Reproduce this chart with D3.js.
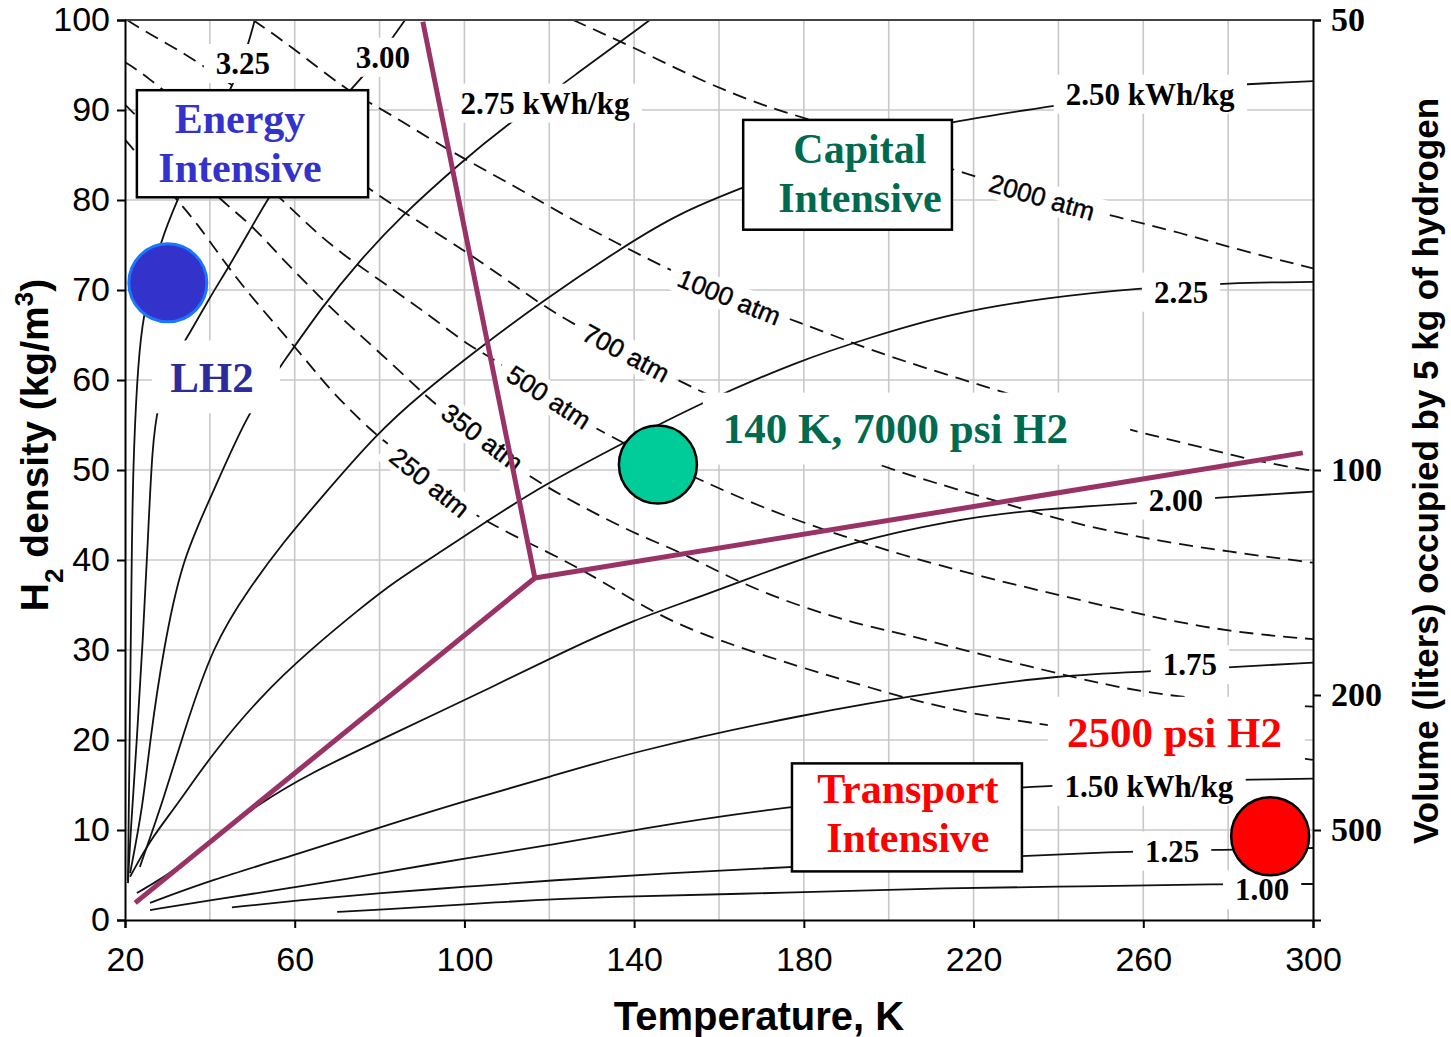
<!DOCTYPE html>
<html>
<head>
<meta charset="utf-8">
<script src="https://cdn.jsdelivr.net/npm/d3@7"></script>
<style>
body { margin: 0; background: #fff; }
</style>
</head>
<body>
<div id="chart"></div>
<script>
// energy contours, kWh/kg : [temperature K, density kg/m3]
var e100 = [[70.0,0.9],[78.5,1.1],[108.4,2.0],[132.0,2.6],[176.7,3.0],[214.4,3.6],[245.1,3.7],[277.4,4.0],[300,4.0]];
var e125 = [[45.2,1.4],[61.2,2.2],[80.1,3.0],[100.6,3.7],[120.2,4.4],[147.7,5.2],[176.7,5.9],[231.7,7.1],[245.1,7.4],[256.9,7.6],[278.8,7.8],[300,8.0]];
var e150 = [[25.9,1.1],[40.0,2.2],[61.2,3.7],[80.1,5.2],[100.6,6.9],[120.2,8.3],[139.7,10.0],[176.7,12.8],[237.3,15.2],[300,15.7]];
var e175 = [[25.9,1.9],[40.0,4.4],[61.2,7.4],[80.1,10.3],[100.6,13.3],[120.2,15.9],[139.7,18.7],[179.1,22.8],[214.4,25.6],[240.4,27.2],[261.1,27.6],[281.1,28.1],[300,28.6]];
var e200 = [[22.8,3.0],[32.3,5.6],[40.0,8.9],[51.8,13.0],[63.6,16.3],[80.1,20.0],[108.4,26.3],[124.2,30.0],[139.7,33.3],[155.5,35.9],[175.1,39.4],[190.9,41.9],[214.4,44.4],[234.0,45.6],[257.6,46.3],[280.4,47.0],[300,47.6]];
var e225 = [[21.2,4.8],[25.9,8.9],[32.3,12.8],[40.0,18.1],[51.8,24.8],[63.6,30.0],[75.4,34.6],[83.2,37.5],[95.0,41.1],[105.3,44.3],[118.5,48.3],[137.4,53.0],[155.5,57.4],[179.1,62.2],[194.9,64.6],[214.4,67.4],[238.0,69.2],[258.5,70.2],[280.4,70.8],[300,70.9]];
var e250 = [[23.5,5.9],[29.0,13.3],[33.7,20.6],[40.7,30.6],[49.5,37.0],[57.2,41.9],[65.3,46.4],[79.4,54.1],[90.2,58.6],[102.0,63.0],[117.8,68.6],[137.4,74.8],[150.8,78.6],[165.7,81.4],[180,84.0],[200,87.0],[214.4,88.7],[238.0,90.4],[270,92.6],[300,93.2]];
var e275 = [[21.2,5.2],[24.2,12.6],[25.9,20.0],[29.0,30.0],[33.4,40.0],[40.0,46.7],[48.8,56.3],[56.5,61.4],[66.7,68.3],[75.4,73.3],[84.8,78.1],[99.7,84.4],[109.1,88.0],[126.1,93.9],[143.7,100]];
var e300 = [[20.7,4.1],[21.2,8.9],[22.8,20.0],[24.2,31.1],[25.4,42.2],[26.4,52.6],[27.8,57.5],[31.0,62.0],[35.3,65.2],[40.0,69.2],[44.0,72.2],[49.5,76.7],[53.5,80.0],[61.2,85.6],[70.7,91.1],[77.3,94.2],[86.0,100]];
var e325 = [[20.7,4.4],[21.2,24.4],[21.6,41.1],[21.9,50.0],[22.8,60.0],[24.0,66.3],[26.0,70.5],[28.2,75.2],[32.3,80.0],[37.7,85.6],[43.6,91.1],[47.8,95.2],[50.6,100]];

// isobars, atm : [temperature K, density kg/m3]
var p250 = [[20,86.7],[28.2,82.2],[32.3,80.0],[37.0,77.4],[43.1,73.3],[49.5,69.4],[56.5,65.6],[63.6,61.7],[68.3,58.9],[78.5,54.1],[84.1,52.2],[91.9,48.3],[105.3,44.1],[120.2,40.8],[132.0,37.8],[146.1,33.7],[159.5,31.1],[179.1,28.1],[194.9,25.9],[214.4,23.3],[235.7,21.7],[300,17.8]];
var p350 = [[20,90.6],[30.6,85.6],[42.4,80.0],[49.5,77.4],[55.8,74.1],[63.6,70.3],[71.4,66.7],[78.5,63.7],[88.8,59.2],[91.9,57.8],[103.7,53.3],[116.2,48.9],[127.9,45.9],[139.7,43.0],[151.5,40.8],[163.3,37.8],[179.1,34.8],[194.9,32.6],[202.7,31.9],[219.9,29.7],[236.4,27.8],[251.4,26.1],[264.6,25.0],[282.8,24.1],[300,23.7]];
var p500 = [[20,95.3],[24.2,94.1],[37.7,88.9],[49.5,83.1],[57.2,80.0],[63.6,77.0],[71.4,73.9],[80.1,71.1],[86.5,68.9],[92.6,66.9],[101.3,63.7],[107.7,62.2],[119.7,57.8],[132.7,54.1],[145.6,51.1],[155.5,48.9],[171.3,45.6],[186.9,43.0],[202.7,40.6],[222.2,38.1],[242.0,35.9],[261.6,33.7],[280.4,32.0],[300,31.2]];
var p700 = [[20.5,100],[25.9,98.4],[33.7,96.4],[47.8,92.0],[61.2,87.4],[77.0,81.1],[101.3,74.1],[115.5,69.2],[124.9,66.4],[138.1,63.1],[152.0,59.4],[176.7,54.4],[198.7,50.3],[214.4,48.1],[240.4,44.4],[259.9,42.4],[280.4,40.9],[300,39.7]];
var p1000 = [[50.2,100],[58.2,97.4],[72.3,92.2],[77.7,90.8],[84.8,88.9],[95.9,85.6],[112.4,81.4],[124.2,78.1],[136.0,75.2],[146.8,72.6],[162.6,69.1],[179.1,66.4],[190.9,64.2],[202.7,62.2],[223.9,59.1],[240.4,56.7],[256.9,54.4],[273.4,52.6],[285.2,51.1],[300,49.9]];
var p2000 = [[125.6,100],[139.7,97.0],[155.5,93.3],[171.3,90.3],[180.7,89.1],[198.0,86.1],[216.8,83.1],[235.7,80.4],[254.5,78.0],[269.4,76.3],[279.7,74.8],[300,72.4]];

// cost-region boundaries
var boundaryUp = [[90.2,99.8],[116.6,38.0]];
var boundaryLeft = [[116.6,38.0],[22.4,1.9]];
var boundaryRight = [[116.6,38.0],[297.6,51.9]];

// tick values
var densityTicks = [0,10,20,30,40,50,60,70,80,90,100];
var tempTicks = [20,60,100,140,180,220,260,300];
var volumeTicks = [50,100,200,500];

var energyCurves = [e100,e125,e150,e175,e200,e225,e250,e275,e300,e325];
var isobars = [p250,p350,p500,p700,p1000,p2000];

// contour labels: text, [T, rho] of centre
var energyLabels = [
  ["3.25", 47.8, 95.2], ["3.00", 80.8, 95.9], ["2.75 kWh/kg", 119.0, 90.8],
  ["2.50 kWh/kg", 261.6, 91.8], ["2.25", 268.9, 69.8], ["2.00", 267.7, 46.7],
  ["1.75", 271.0, 28.4], ["1.50 kWh/kg", 261.3, 14.9], ["1.25", 266.8, 7.7], ["1.00", 288.0, 3.4]
];
// isobar labels: text, T, rho, angle
var isobarLabels = [
  ["250 atm", 91.8, 48.6, 39], ["350 atm", 104.2, 53.6, 37], ["500 atm", 119.9, 58.1, 33],
  ["700 atm", 138.1, 63.0, 28], ["1000 atm", 162.4, 69.2, 22], ["2000 atm", 236.1, 80.3, 16]
];

var width = 1451, height = 1037;

var svg = d3.select('#chart')
  .append('svg')
  .attr('width', width)
  .attr('height', height)
  .style('font-family', 'Liberation Sans, Arial, sans-serif');

var x = d3.scaleLinear().domain([20, 300]).range([125, 1313]);
var y = d3.scaleLinear().domain([0, 100]).range([920, 20]);
// volume of 5 kg = 5000 / density (liters)
var yVol = d3.scalePow().exponent(-1).domain([50, 1e12]).range([20, 920]);

svg.append('clipPath').attr('id', 'plot')
  .append('rect')
  .attr('x', x(20)).attr('y', y(100))
  .attr('width', x(300) - x(20)).attr('height', y(0) - y(100));

// grid
var grid = svg.append('g').attr('stroke', '#c8c8c8').attr('stroke-width', 1.6);
grid.selectAll('.vg')
  .data(d3.range(40, 300, 20))
  .enter().append('line')
  .attr('x1', d => x(d)).attr('x2', d => x(d))
  .attr('y1', y(0)).attr('y2', y(100));
grid.selectAll('.hg')
  .data(d3.range(10, 100, 10))
  .enter().append('line')
  .attr('x1', x(20)).attr('x2', x(300))
  .attr('y1', d => y(d)).attr('y2', d => y(d));

var line = d3.line()
  .x(d => x(d[0]))
  .y(d => y(d[1]))
  .curve(d3.curveBasis);

var curves = svg.append('g').attr('clip-path', 'url(#plot)');

curves.selectAll('.iso')
  .data(isobars)
  .enter().append('path')
  .attr('d', line)
  .attr('fill', 'none')
  .attr('stroke', '#111')
  .attr('stroke-width', 1.8)
  .attr('stroke-dasharray', '14,8');

curves.selectAll('.en')
  .data(energyCurves)
  .enter().append('path')
  .attr('d', line)
  .attr('fill', 'none')
  .attr('stroke', '#111')
  .attr('stroke-width', 1.8);

// frame
svg.append('line')
  .attr('x1', x(20)).attr('x2', x(300))
  .attr('y1', y(100)).attr('y2', y(100))
  .attr('stroke', '#444').attr('stroke-width', 2);

// axes
var leftAxis = svg.append('g')
  .attr('transform', 'translate(' + x(20) + ',0)')
  .call(d3.axisLeft(y).tickValues(densityTicks).tickSize(8).tickPadding(7));
var bottomAxis = svg.append('g')
  .attr('transform', 'translate(0,' + y(0) + ')')
  .call(d3.axisBottom(x).tickValues(tempTicks).tickSize(8).tickPadding(19));
var rightAxis = svg.append('g')
  .attr('transform', 'translate(' + x(300) + ',0)')
  .call(d3.axisRight(yVol).tickValues(volumeTicks).tickSize(8).tickPadding(10));

[leftAxis, bottomAxis, rightAxis].forEach(function(a) {
  a.select('.domain').attr('stroke', '#000').attr('stroke-width', 2);
  a.selectAll('.tick line').attr('stroke', '#000').attr('stroke-width', 2);
});
leftAxis.selectAll('text').style('font-size', '34px').attr('fill', '#000');
bottomAxis.selectAll('text').style('font-size', '34px').attr('fill', '#000');
rightAxis.selectAll('text')
  .style('font-size', '34px')
  .style('font-family', 'Liberation Serif, Times New Roman, serif')
  .style('font-weight', 'bold')
  .attr('fill', '#000');

// axis titles
var yTitle = svg.append('text')
  .attr('transform', 'translate(48,445) rotate(-90)')
  .attr('text-anchor', 'middle')
  .style('font-size', '39px').style('font-weight', 'bold');
yTitle.append('tspan').text('H');
yTitle.append('tspan').attr('baseline-shift', 'sub').style('font-size', '26px').text('2');
yTitle.append('tspan').text(' density (kg/m');
yTitle.append('tspan').attr('baseline-shift', 'super').style('font-size', '26px').text('3');
yTitle.append('tspan').text(')');

svg.append('text')
  .attr('x', 759).attr('y', 1030)
  .attr('text-anchor', 'middle')
  .style('font-size', '40px').style('font-weight', 'bold')
  .text('Temperature, K');

svg.append('text')
  .attr('transform', 'translate(1438,471) rotate(-90)')
  .attr('text-anchor', 'middle')
  .style('font-size', '35px').style('font-weight', 'bold')
  .text('Volume (liters) occupied by 5 kg of hydrogen');

// label with white background
function boxedText(g, t, pad) {
  var b = t.node().getBBox();
  g.insert('rect', 'text')
    .attr('x', b.x - pad[0]).attr('y', b.y - pad[1])
    .attr('width', b.width + 2 * pad[0]).attr('height', b.height + 2 * pad[1])
    .attr('fill', '#fff');
}

energyLabels.forEach(function(d) {
  var g = svg.append('g').attr('transform', 'translate(' + x(d[1]) + ',' + y(d[2]) + ')');
  var t = g.append('text')
    .attr('text-anchor', 'middle').attr('dy', '0.35em')
    .style('font-family', 'Liberation Serif, Times New Roman, serif')
    .style('font-weight', 'bold').style('font-size', '31px')
    .text(d[0]);
  boxedText(g, t, [12, 2]);
});

isobarLabels.forEach(function(d) {
  var g = svg.append('g').attr('transform', 'translate(' + x(d[1]) + ',' + y(d[2]) + ') rotate(' + d[3] + ')');
  var t = g.append('text')
    .attr('text-anchor', 'middle').attr('dy', '0.35em')
    .style('font-size', '26px')
    .style('stroke', '#000').style('stroke-width', 0.4)
    .text(d[0]);
  boxedText(g, t, [10, 0]);
});

// plain white panels behind free text
var panels = [[26.4, 56.5, 64.4, 56.3], [156.2, 256.9, 58.6, 50.6], [237.5, 298.1, 24.8, 17.0]];
svg.selectAll('.panel')
  .data(panels)
  .enter().append('rect')
  .attr('x', d => x(d[0])).attr('y', d => y(d[2]))
  .attr('width', d => x(d[1]) - x(d[0])).attr('height', d => y(d[3]) - y(d[2]))
  .attr('fill', '#fff');

// boxed region names
var boxes = [
  { x0: 22.8, x1: 77.3, y0: 92.2, y1: 80.3, cx: 47.1, lines: [['Energy', 87.4], ['Intensive', 82.0]], color: '#3333cc' },
  { x0: 165.7, x1: 214.9, y0: 88.9, y1: 76.7, cx: 193.2, lines: [['Capital', 84.1], ['Intensive', 78.7]], color: '#006a4e' },
  { x0: 177.2, x1: 231.4, y0: 17.4, y1: 5.4, cx: 204.5, lines: [['Transport', 13.0], ['Intensive', 7.6]], color: '#ff0000' }
];
boxes.forEach(function(b) {
  svg.append('rect')
    .attr('x', x(b.x0)).attr('y', y(b.y0))
    .attr('width', x(b.x1) - x(b.x0)).attr('height', y(b.y1) - y(b.y0))
    .attr('fill', '#fff').attr('stroke', '#000').attr('stroke-width', 2.5);
  b.lines.forEach(function(l) {
    svg.append('text')
      .attr('x', x(b.cx)).attr('y', y(l[1]))
      .attr('text-anchor', 'middle')
      .style('font-family', 'Liberation Serif, Times New Roman, serif')
      .style('font-weight', 'bold').style('font-size', '42px')
      .attr('fill', b.color)
      .text(l[0]);
  });
});

var freeText = [
  ['LH2', 40.5, 58.7, 'middle', '#2b2b9c'],
  ['140 K, 7000 psi H2', 160.9, 53.0, 'start', '#006a4e'],
  ['2500 psi H2', 242.0, 19.2, 'start', '#ff0000']
];
svg.selectAll('.free')
  .data(freeText)
  .enter().append('text')
  .attr('x', d => x(d[1])).attr('y', d => y(d[2]))
  .attr('text-anchor', d => d[3])
  .style('font-family', 'Liberation Serif, Times New Roman, serif')
  .style('font-weight', 'bold').style('font-size', '43px')
  .attr('fill', d => d[4])
  .text(d => d[0]);

// region boundaries
svg.selectAll('.bound')
  .data([boundaryUp, boundaryLeft, boundaryRight])
  .enter().append('path')
  .attr('d', d3.line().x(d => x(d[0])).y(d => y(d[1])))
  .attr('fill', 'none')
  .attr('stroke', '#993366')
  .attr('stroke-width', 5)
  .attr('stroke-linejoin', 'round');

// storage points
var points = [
  { t: 30.1, rho: 70.8, fill: '#3333cc', stroke: '#1a75ff', sw: 3 },
  { t: 145.6, rho: 50.6, fill: '#00cc99', stroke: '#000', sw: 2.5 },
  { t: 289.9, rho: 9.3, fill: '#ff0000', stroke: '#000', sw: 2.5 }
];
svg.selectAll('.pt')
  .data(points)
  .enter().append('circle')
  .attr('cx', d => x(d.t)).attr('cy', d => y(d.rho))
  .attr('r', 39)
  .attr('fill', d => d.fill)
  .attr('stroke', d => d.stroke)
  .attr('stroke-width', d => d.sw);
</script>
</body>
</html>
